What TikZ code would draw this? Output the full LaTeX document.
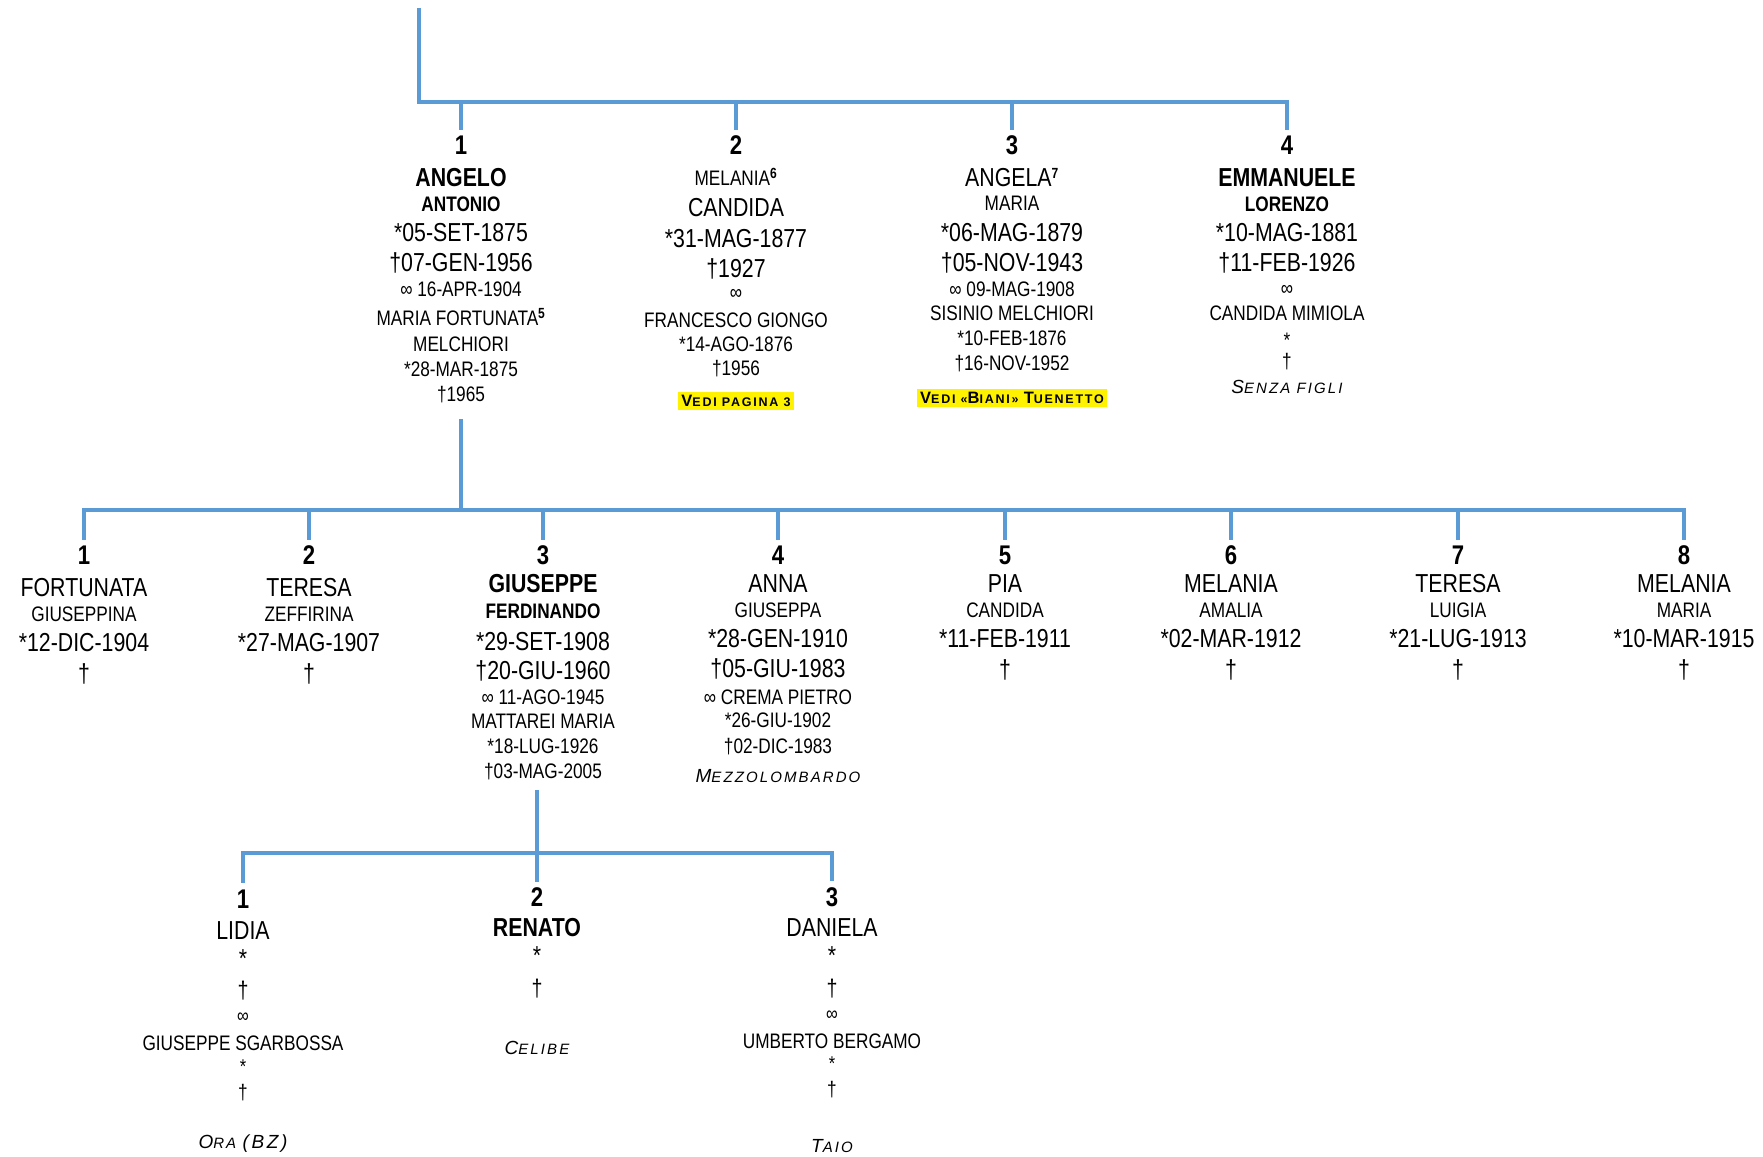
\documentclass[tikz,border=0pt]{standalone}
\usepackage{fontspec}
\setmainfont{Liberation Sans}[FakeStretch=0.82]
\newfontfamily\notefont{Liberation Sans}[LetterSpace=14]
\definecolor{ramoblu}{HTML}{5B9BD5}
\newcommand\fnum{\fontsize{27}{0}\selectfont\bfseries}
\newcommand\fbig{\fontsize{26}{0}\selectfont}
\newcommand\fmed{\fontsize{21}{0}\selectfont}
\newcommand\fsml{\fontsize{20}{0}\selectfont}
\newcommand\fcroce{\fontsize{24}{0}\selectfont}
\newcommand\fpers{\fmed\lineskip=0pt\lineskiplimit=-\maxdimen}
\newcommand\grsz{18}
\newcommand\Gr[1]{{\fontsize{\grsz}{0}\selectfont#1}}
\newcommand\notaI[1]{{\notefont\itshape\fontsize{15}{0}\selectfont\renewcommand\grsz{19}#1}}
\newcommand\notaB[1]{{\setlength\fboxsep{3pt}\colorbox{yellow}{\notefont\bfseries\fontsize{12.5}{0}\selectfont\renewcommand\grsz{16.5}#1}}}
\newcommand\num[1]{\rule{0pt}{20pt}{\fnum #1}}
\tikzset{
  ramo/.style={ramoblu,line width=4pt},
  persona/.style={align=center,inner sep=0pt,anchor=north,font=\fpers}
}
\begin{document}
\begin{tikzpicture}[x=1pt,y=-1pt]
  \useasboundingbox (0,0) rectangle (1763,1156);
  \coordinate (capo) at (419,8);
  \coordinate (b1) at (0,102);
  \coordinate (b2) at (0,510);
  \coordinate (b3) at (0,853);

  \node[persona] (f1) at (461,134) {\num{1}\\[32pt]
    {\fbig\bfseries ANGELO}\\[25pt] {\bfseries ANTONIO}\\[30pt]
    {\fbig *05-SET-1875}\\[30pt] {\fbig †07-GEN-1956}\\[25.5pt]
    ∞ 16-APR-1904\\[29pt] MARIA FORTUNATA\textsuperscript{\bfseries 5}\\[26pt]
    MELCHIORI\\[25pt] {*28-MAR-1875}\\[24.5pt] †1965};
  \node[persona] (f2) at (736,134) {\num{2}\\[31.5pt]
    MELANIA\textsuperscript{\bfseries 6}\\[30.5pt] {\fbig CANDIDA}\\[31pt]
    {\fbig *31-MAG-1877}\\[30pt] {\fbig †1927}\\[22pt]
    ∞\\[28.5pt] FRANCESCO GIONGO\\[24pt]
    {*14-AGO-1876}\\[24pt] †1956\\[31pt]
    \notaB{\Gr{V}EDI PAGINA 3}};
  \node[persona] (f3) at (1012,134) {\num{3}\\[32pt]
    {\fbig ANGELA}\textsuperscript{\bfseries 7}\\[24.5pt] MARIA\\[30.5pt]
    {\fbig *06-MAG-1879}\\[30pt] {\fbig †05-NOV-1943}\\[25.5pt]
    ∞ 09-MAG-1908\\[24pt] SISINIO MELCHIORI\\[25pt]
    {*10-FEB-1876}\\[25pt] †16-NOV-1952\\[33pt]
    \notaB{\Gr{V}EDI «\Gr{B}IANI» \Gr{T}UENETTO}};
  \node[persona] (f4) at (1287,134) {\num{4}\\[32pt]
    {\fbig\bfseries EMMANUELE}\\[25pt] {\bfseries LORENZO}\\[30pt]
    {\fbig *10-MAG-1881}\\[30pt] {\fbig †11-FEB-1926}\\[24pt]
    ∞\\[25.5pt] CANDIDA MIMIOLA\\[26.5pt]
    {*}\\[21.5pt] †\\[25pt]
    \notaI{\Gr{S}ENZA FIGLI}};

  \foreach \x/\i/\nome/\secondo/\nato/\p in {84/1/FORTUNATA/GIUSEPPINA/12-DIC-1904/32,
      309/2/TERESA/ZEFFIRINA/27-MAG-1907/32, 1005/5/PIA/CANDIDA/11-FEB-1911/28,
      1231/6/MELANIA/AMALIA/02-MAR-1912/28, 1458/7/TERESA/LUIGIA/21-LUG-1913/28,
      1684/8/MELANIA/MARIA/10-MAR-1915/28}
    \node[persona] (n\i) at (\x,544) {\num{\i}\\[\p pt]
      {\fbig \nome}\\[25pt] \secondo\\[30pt]
      {\fbig *\nato}\\[31pt] {\fbig †}};
  \node[persona] (n3) at (543,544) {\num{3}\\[28.3pt]
    {\fbig\bfseries GIUSEPPE}\\[26pt] {\bfseries FERDINANDO}\\[32pt]
    {\fbig *29-SET-1908}\\[29pt] {\fbig †20-GIU-1960}\\[25pt]
    ∞ 11-AGO-1945\\[24pt] MATTAREI MARIA\\[25pt]
    {*18-LUG-1926}\\[25pt] †03-MAG-2005};
  \node[persona] (n4) at (778,544) {\num{4}\\[28.3pt]
    {\fbig ANNA}\\[25pt] GIUSEPPA\\[30pt]
    {\fbig *28-GEN-1910}\\[30pt] {\fbig †05-GIU-1983}\\[27pt]
    ∞ CREMA PIETRO\\[23pt] {*26-GIU-1902}\\[26pt]
    †02-DIC-1983\\[29pt] \notaI{\Gr{M}EZZOLOMBARDO}};

  \node[persona] (p1) at (243,888) {\num{1}\\[31pt]
    {\fbig LIDIA}\\[28pt] {\fbig *}\\[31pt] {\fcroce †}\\[24pt]
    {\fsml ∞}\\[28.5pt] GIUSEPPE SGARBOSSA\\[22.5pt]
    {\fsml *}\\[26pt] †\\[49.5pt] \notaI{\Gr{O}RA \Gr{(BZ)}}};
  \node[persona] (p2) at (537,886) {\num{2}\\[30.3pt]
    {\fbig\bfseries RENATO}\\[28pt] {\fbig *}\\[32pt] {\fcroce †}\\[57.5pt]
    \notaI{\Gr{C}ELIBE}};
  \node[persona] (p3) at (832,886) {\num{3}\\[30.3pt]
    {\fbig DANIELA}\\[28pt] {\fbig *}\\[32pt] {\fcroce †}\\[24pt]
    {\fsml ∞}\\[27.5pt] UMBERTO BERGAMO\\[22.5pt]
    {\fsml *}\\[26pt] †\\[55.5pt] \notaI{\Gr{T}AIO}};

  \draw[ramo] (capo) |- (f4 |- b1) -- ([yshift=4pt]f4.north);
  \foreach \f in {f1,f2,f3}
    \draw[ramo] (\f |- b1) -- ([yshift=4pt]\f.north);
  \draw[ramo] ([yshift=-16pt]f1.south) -- (f1 |- b2);
  \draw[ramo] ([yshift=4pt]n1.north) |- (n8 |- b2) -- ([yshift=4pt]n8.north);
  \foreach \i in {2,...,7}
    \draw[ramo] (n\i |- b2) -- ([yshift=4pt]n\i.north);
  \draw[ramo] ([xshift=-6pt,yshift=-10pt]n3.south) -- ([yshift=4pt]p2.north);
  \draw[ramo] ([yshift=5pt]p1.north) |- (p3 |- b3) -- ([yshift=5pt]p3.north);
\end{tikzpicture}
\end{document}
